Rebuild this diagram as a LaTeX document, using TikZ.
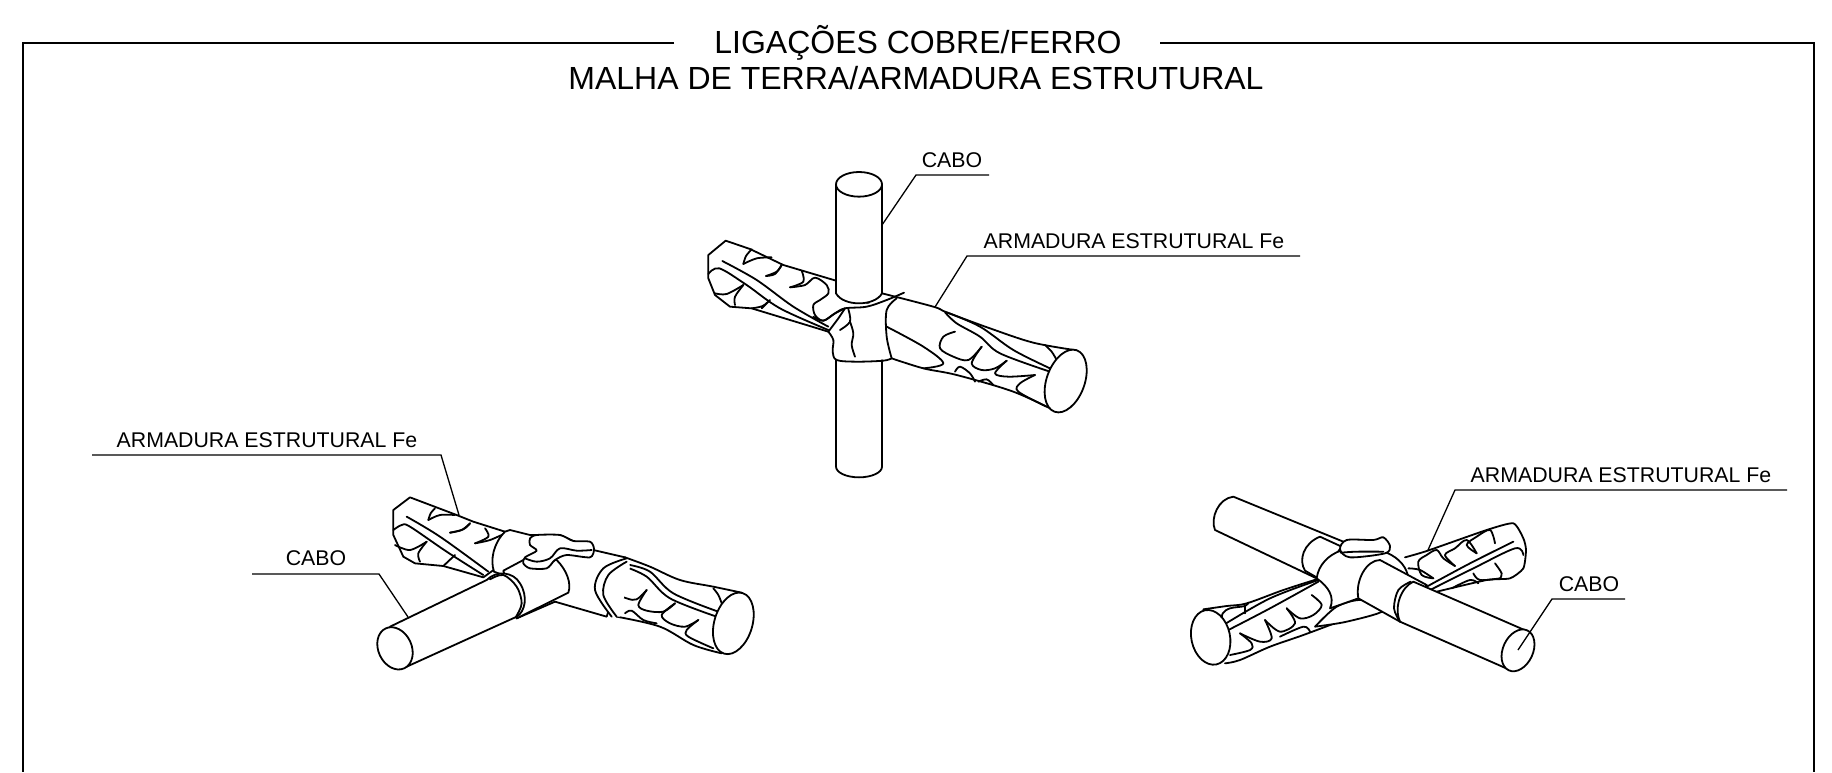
\documentclass[tikz,border=0pt]{standalone}
\usepackage{fontspec}
\setmainfont{Liberation Sans}
\tikzset{
 ln/.style={draw=black,line width=0.9pt,line join=round,line cap=round},
 wf/.style={ln,fill=white},
 frameln/.style={draw=black,line width=0.7pt},
 leader/.style={draw=black,line width=0.65pt,line join=miter},
 lbl/.style={inner sep=0pt,font=\fontsize{10.65}{12}\selectfont,text=black},
 ttl/.style={inner sep=0pt,font=\fontsize{16}{18}\selectfont,text=black},
 zoomed/.style={x=0.16667pt,y=-0.16667pt}
}
\newcommand{\crv}[2][ln]{\draw[#1] plot[smooth,tension=0.55] coordinates {#2};}
\begin{document}
\begin{tikzpicture}[x=0.5pt,y=-0.5pt]
\useasboundingbox (0,0) rectangle (1832,772);
\draw[frameln] (674,43) -- (23,43) -- (23,772);
\draw[frameln] (1160,43) -- (1814,43) -- (1814,772);
\node[ttl] (t1) at (918,43) {LIGAÇÕES COBRE/FERRO};
\node[ttl] (t2) at (916,78) {MALHA DE TERRA/ARMADURA ESTRUTURAL};

% ---------- top assembly
\begin{scope}[shift={(680,150)},zoomed]
% rebar left
\draw[wf] (137,272) -- (85,315) -- (85,385) -- (105,435) -- (150,470) -- (215,475) -- (445,545) -- (620,500) -- (468,392) -- (310,345) -- (210,297) -- cycle;
\crv{(127,333)(230,390)(340,470)(445,530)}
\crv{(85,372)(118,355)(200,405)(300,475)(445,540)}
\crv{(215,298)(198,318)(190,342)}
\crv{(190,342)(230,325)(275,322)}
\crv{(305,345)(290,365)(258,378)}
\crv{(258,378)(285,372)(305,345)}
\crv{(365,362)(370,395)(330,412)}
\crv{(330,412)(375,405)(405,383)(440,405)(445,430)(420,450)(400,465)(405,495)(430,512)(465,490)(495,475)}
\crv{(105,430)(140,432)(190,405)}
\crv{(190,405)(165,440)(165,465)}
\crv{(215,475)(248,468)(270,450)(245,475)}
% rebar right
\fill[white] (606,430) -- (760,470) -- (1060,578) -- (1195,603) -- (1130,785) -- (830,675) -- (635,625) -- cycle;
\crv{(606,430)(760,470)(800,487)(930,535)(1060,578)(1190,601)}
\crv{(635,625)(730,655)(830,675)(1000,725)(1130,785)}
\crv{(620,530)(730,590)(790,640)(730,655)}
\crv{(795,487)(830,520)(900,560)(960,610)(1110,665)}
\crv{(800,487)(900,530)(1000,600)(1110,655)}
\crv{(1095,585)(1115,605)(1130,630)}
\crv{(825,545)(790,560)(780,595)(820,620)(865,630)(905,590)}
\crv{(905,590)(875,640)(905,660)(945,655)(980,632)}
\crv{(980,632)(945,670)(985,680)(1065,675)}
\crv{(1065,675)(1020,700)(1015,725)(1100,770)}
\crv{(825,665)(840,650)(870,670)(885,695)}
\crv{(895,695)(920,688)(940,705)}
\draw[wf,rotate around={-20:(1157,693)}] (1157,693) ellipse [x radius=57,y radius=98];
% cable
\draw[wf] (468,630) -- (468,950) arc[start angle=180,end angle=0,x radius=69,y radius=32] -- (606,630);
\draw[wf] (468,103) -- (468,430) .. controls (490,470) and (584,470) .. (606,430) -- (606,103);
\draw[wf] (537,103) ellipse [x radius=69,y radius=37];
% clamp
\fill[white] (495,475) -- (620,450) -- (620,560) -- (635,625) -- (530,635) -- (470,630) -- (458,605) -- (445,545) -- cycle;
\crv{(400,500)(430,512)(465,490)(495,475)(560,470)(620,450)(672,428)}
\crv{(650,445)(620,480)(620,560)(635,625)}
\crv{(445,545)(460,570)(458,605)(470,630)(530,635)(610,632)(635,625)}
\crv{(445,545)(475,505)(495,475)}
\crv{(505,478)(510,515)(480,540)}
\crv{(510,515)(520,550)(515,585)(525,620)}
\end{scope}

% ---------- left assembly
\begin{scope}[shift={(360,480)},zoomed]
% rebar left
\draw[wf] (150,52) -- (100,90) -- (100,165) -- (130,230) -- (165,250) -- (250,258) -- (370,292) -- (470,220) -- (435,155) -- (340,125) -- (290,105) -- cycle;
\crv{(140,110)(240,170)(385,275)}
\crv{(100,150)(125,135)(150,140)(260,215)(370,285)}
\crv{(225,85)(212,100)(205,120)}
\crv{(205,120)(240,105)(285,105)}
\crv{(330,130)(310,148)(270,158)}
\crv{(270,158)(305,150)(330,130)}
\crv{(375,145)(385,170)(345,190)}
\crv{(345,190)(390,180)(435,160)}
\crv{(105,195)(150,210)(200,185)}
\crv{(200,185)(175,220)(180,245)}
\crv{(250,258)(285,225)}
% rebar right
\fill[white] (795,232) -- (1060,320) -- (1150,338) -- (1085,520) -- (770,410) -- cycle;
\crv{(795,232)(870,260)(960,300)(1060,320)(1145,338)}
\crv{(770,410)(900,440)(1000,495)(1085,520)}
\crv{(810,255)(870,275)(940,340)(1075,395)}
\crv{(800,262)(860,290)(930,355)(1070,410)}
\crv{(788,283)(750,295)(745,330)(800,355)(830,358)(860,330)}
\crv{(860,330)(835,375)(860,392)(910,395)(945,370)}
\crv{(945,370)(905,405)(930,430)(975,440)(1015,420)}
\crv{(1015,420)(980,450)(985,470)(1060,505)}
\crv{(795,400)(815,392)(850,420)(890,430)}
\crv{(1060,325)(1075,345)(1085,370)}
\draw[wf,rotate around={-17:(1120,430)}] (1120,430) ellipse [x radius=57,y radius=95];
% central body
\draw[wf] (435,155) .. controls (400,190) and (390,240) .. (402,275) -- (470,300) -- (470,415) -- (585,365) -- (740,410) -- (795,232) -- (700,210) -- (600,165) -- (510,165) -- (450,150) -- cycle;
\fill[white] (800,235) .. controls (730,265) and (695,340) .. (755,410) -- (780,410) -- (810,260) -- cycle;
\crv{(800,235)(730,265)(705,330)(755,410)}
\crv{(800,245)(745,285)(730,345)(770,410)}
% clamp front
\draw[wf] (430,272) -- (490,240) -- (590,240) .. controls (620,270) and (635,310) .. (625,338) -- (470,415) -- cycle;
% cable
\draw[wf] (90,440) -- (380,300) .. controls (410,270) and (460,275) .. (480,310) .. controls (505,350) and (495,395) .. (470,410) -- (140,560);
\crv{(390,298)(430,285)(470,320)(485,370)(468,410)}
\draw[wf,rotate around={25:(105,505)}] (105,505) ellipse [x radius=50,y radius=66];
% blob
\draw[wf] plot[smooth cycle,tension=0.45] coordinates {(510,175)(530,165)(600,165)(640,183)(690,185)(702,207)(690,232)(620,225)(585,240)(560,265)(510,265)(490,250)(495,232)(530,212)(510,195)};
\crv{(495,235)(530,245)(570,235)(600,205)(650,212)(695,210)}
\end{scope}

% ---------- right assembly
\begin{scope}[shift={(1170,480)},zoomed]
% rebar right
\draw[wf] plot[smooth,tension=0.35] coordinates {(705,232)(770,213)(950,150)(1030,130)(1060,175)(1068,210)(1060,265)(1020,295)(950,300)(800,335)};
\crv{(770,320)(900,250)(1030,185)}
\crv{(780,330)(910,265)(1035,205)(1060,225)}
\crv{(715,265)(750,270)(790,295)}
\crv{(790,295)(755,285)(745,245)(770,225)(800,210)(820,235)(855,258)}
\crv{(855,258)(825,225)(855,205)(890,180)(920,220)}
\crv{(920,220)(890,195)(920,170)(960,150)(975,190)}
\crv{(845,325)(900,300)(925,310)}
\crv{(910,280)(930,300)(990,295)}
\crv{(975,250)(995,280)(990,295)}
% rebar left
\fill[white] (100,388) -- (440,298) -- (520,420) -- (165,550) -- cycle;
\crv{(100,388)(170,378)(230,370)(340,330)(440,298)}
\crv{(165,550)(210,540)(300,500)(400,465)(520,420)}
\crv{(165,432)(300,355)(445,300)}
\crv{(175,450)(300,385)(445,305)}
\crv{(155,425)(158,400)(180,385)(225,378)(235,368)}
\crv{(225,378)(225,400)}
\crv{(425,345)(455,375)(430,405)(390,415)(350,385)}
\crv{(350,385)(375,430)(330,455)(285,420)}
\crv{(285,420)(305,475)(270,485)(210,460)}
\crv{(210,460)(245,490)(240,510)(180,525)}
\crv{(330,470)(400,440)(420,455)}
\draw[wf,rotate around={12:(122,472)}] (122,472) ellipse [x radius=58,y radius=83];
% oval under clamp
\draw[wf] plot[smooth,tension=0.5] coordinates {(435,440)(500,380)(575,360)(640,392)(530,425)(435,440)};
% upper left cable
\draw[wf] (450,300) -- (135,150) .. controls (120,115) and (145,55) .. (190,50) -- (520,185) -- (560,300) -- cycle;
% collar and dome
\draw[wf] (450,170) .. controls (400,190) and (385,240) .. (405,272) -- (445,295) -- (515,200) -- cycle;
\draw[wf] (440,295) .. controls (445,255) and (475,225) .. (512,212) -- (650,218) .. controls (690,235) and (712,265) .. (715,295) -- (700,360) -- (565,355) -- (480,385) .. controls (495,350) and (475,320) .. (440,295);
% front cable
\draw[wf] (565,355) .. controls (555,300) and (590,240) .. (630,240) -- (770,315) -- (690,425) -- cycle;
\draw[wf] (730,305) .. controls (695,320) and (670,380) .. (690,425) -- (1020,570) -- (1075,455) -- cycle;
\crv{(722,305)(685,330)(672,385)(690,425)}
\draw[wf,rotate around={-25:(1044,511)}] (1044,511) ellipse [x radius=45,y radius=66];
% blob
\draw[wf] plot[smooth cycle,tension=0.5] coordinates {(510,208)(530,180)(610,180)(640,172)(660,198)(645,220)(540,232)};
\crv{(512,218)(560,215)(640,215)}
\end{scope}

% ---------- labels and leaders
\node[lbl] (cabotop) at (952,160) {CABO};
\coordinate (ca) at (989,175); \coordinate (cb) at (916,175); \coordinate (cc) at (882,225);
\draw[leader] (ca) -- (cb) -- (cc);
\node[lbl] (armtop) at (1134,241) {ARMADURA ESTRUTURAL Fe};
\coordinate (aa) at (1300,256); \coordinate (ab) at (967,256); \coordinate (ac) at (935,307);
\draw[leader] (aa) -- (ab) -- (ac);
\node[lbl] (armleft) at (267,440) {ARMADURA ESTRUTURAL Fe};
\coordinate (da) at (92,455); \coordinate (db) at (441,455); \coordinate (dc) at (459,515);
\draw[leader] (da) -- (db) -- (dc);
\node[lbl] (caboleft) at (316,558) {CABO};
\coordinate (ea) at (252,574); \coordinate (eb) at (379,574); \coordinate (ec) at (408,617);
\draw[leader] (ea) -- (eb) -- (ec);
\node[lbl] (armright) at (1621,475) {ARMADURA ESTRUTURAL Fe};
\coordinate (fa) at (1787,490); \coordinate (fb) at (1455,490); \coordinate (fc) at (1428,550);
\draw[leader] (fa) -- (fb) -- (fc);
\node[lbl] (caboright) at (1589,584) {CABO};
\coordinate (ga) at (1625,599); \coordinate (gb) at (1552,599); \coordinate (gc) at (1518,650);
\draw[leader] (ga) -- (gb) -- (gc);
\end{tikzpicture}
\end{document}
